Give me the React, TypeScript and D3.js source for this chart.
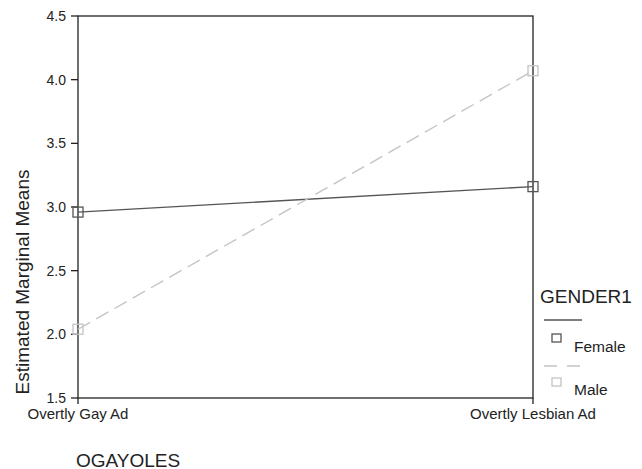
import React from "react";
import * as d3 from "d3";

const categories = ["Overtly Gay Ad", "Overtly Lesbian Ad"];
const femaleValues = [2.96, 3.16];
const maleValues = [2.04, 4.07];
const yTicks = [1.5, 2.0, 2.5, 3.0, 3.5, 4.0, 4.5];
const seriesNames = ["Female", "Male"];

const W = 642, H = 469;
const left = 78, right = 533, top = 16, bottom = 398;
const font = "Liberation Sans, Arial, sans-serif";

export default function App() {
  const x = d3.scalePoint<string>().domain(categories).range([left, right]).padding(0);
  const y = d3.scaleLinear().domain([1.5, 4.5]).range([bottom, top]);
  const line = d3.line<number>().x((_, i) => x(categories[i]) as number).y((d) => y(d));
  const series = [
    { name: seriesNames[0], values: femaleValues, color: "#555555", dash: "none", legDash: "none" },
    { name: seriesNames[1], values: maleValues, color: "#c4c4c4", dash: "14,7", legDash: "13,10" },
  ];
  return (
    <svg width={W} height={H} style={{ position: "absolute", left: 0, top: 0, background: "#fff" }} fontFamily={font}>
      <rect x={left} y={top} width={right - left} height={bottom - top} fill="none" stroke="#222" strokeWidth={1.3} />
      {yTicks.map((t) => (
        <g key={t}>
          <line x1={left - 7} x2={left} y1={y(t)} y2={y(t)} stroke="#222" strokeWidth={1.3} />
          <text x={left - 12} y={y(t)} dy="0.35em" textAnchor="end" fontSize={14} fill="#222">{t.toFixed(1)}</text>
        </g>
      ))}
      {categories.map((c) => (
        <g key={c}>
          <line x1={x(c)} x2={x(c)} y1={bottom} y2={bottom + 6} stroke="#222" strokeWidth={1.3} />
          <text x={x(c)} y={bottom + 21} textAnchor="middle" fontSize={15} fill="#222">{c}</text>
        </g>
      ))}
      <text transform={`translate(29,282) rotate(-90)`} textAnchor="middle" fontSize={19} fill="#222">Estimated Marginal Means</text>
      <text x={76} y={467} fontSize={19} fill="#222">OGAYOLES</text>
      {series.map((s) => (
        <g key={s.name}>
          <path d={line(s.values) as string} fill="none" stroke={s.color} strokeWidth={1.4} strokeDasharray={s.dash} />
          {s.values.map((v, i) => (
            <rect key={i} x={(x(categories[i]) as number) - 5} y={y(v) - 5} width={10} height={10} fill="none" stroke={s.color} strokeWidth={1.3} />
          ))}
        </g>
      ))}
      <text x={540} y={303} fontSize={19} fill="#222">GENDER1</text>
      {series.map((s, i) => (
        <g key={s.name}>
          <line x1={544} x2={582} y1={320 + i * 46} y2={320 + i * 46} stroke={s.color} strokeWidth={1.3} strokeDasharray={s.legDash} />
          <rect x={552} y={334 + i * 44} width={9} height={8} fill="none" stroke={s.color} strokeWidth={1.3} />
          <text x={574} y={352 + i * 43} fontSize={15.5} fill="#222">{s.name}</text>
        </g>
      ))}
    </svg>
  );
}
